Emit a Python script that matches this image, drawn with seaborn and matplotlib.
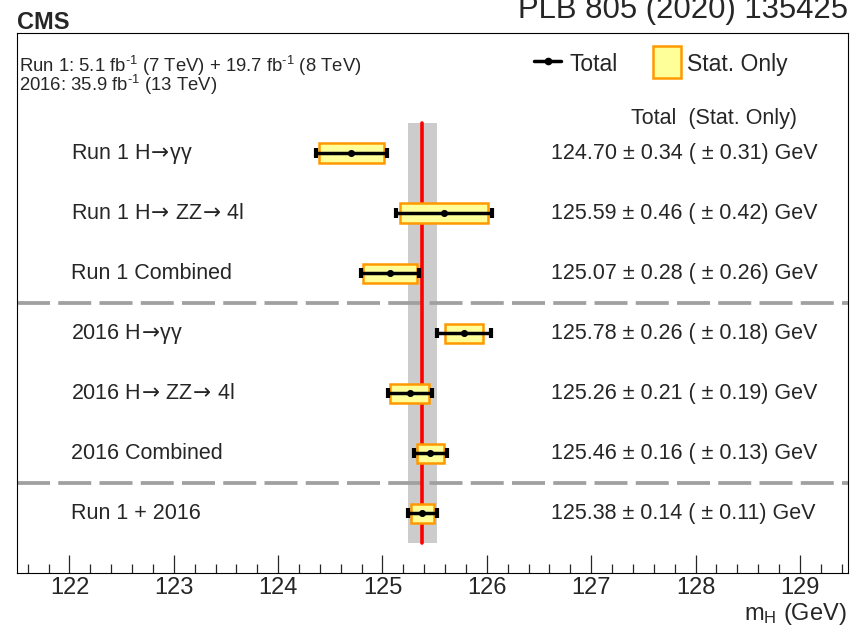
import matplotlib
matplotlib.use("Agg")
import matplotlib.pyplot as plt
import seaborn as sns
import numpy as np
import pandas as pd
from matplotlib.patches import Rectangle
from matplotlib.lines import Line2D

# ---- data ----
ARR = r"$\!\mathsf{\rightarrow}\!$"
labels = ["Run 1 H" + ARR + "\u03b3\u03b3", "Run 1 H" + ARR + " ZZ" + ARR + " 4l",
          "Run 1 Combined",
          "2016 H" + ARR + "\u03b3\u03b3", "2016 H" + ARR + " ZZ" + ARR + " 4l",
          "2016 Combined", "Run 1 + 2016"]
central = [124.70, 125.59, 125.07, 125.78, 125.26, 125.46, 125.38]
total_err = [0.34, 0.46, 0.28, 0.26, 0.21, 0.16, 0.14]
stat_err = [0.31, 0.42, 0.26, 0.18, 0.19, 0.13, 0.11]
separators = [2.5, 5.5]
xticks = [122, 123, 124, 125, 126, 127, 128, 129]

sns.set_style("white")
plt.rcParams['font.family'] = ['Liberation Sans', 'DejaVu Sans']
plt.rcParams['mathtext.fontset'] = 'custom'
plt.rcParams['mathtext.rm'] = 'Liberation Sans'
plt.rcParams['mathtext.sf'] = 'DejaVu Sans'
plt.rcParams['mathtext.default'] = 'regular'

df = pd.DataFrame({"label": labels, "m": central, "tot": total_err,
                   "stat": stat_err, "row": np.arange(len(labels))})

fig = plt.figure(figsize=(8.59, 6.35), dpi=100)
ax = fig.add_axes([0.02014, 0.09716, 0.9669, 0.8509])

comb = df.iloc[-1]
ax.fill_betweenx([-0.5, len(df) - 0.5], comb.m - comb.tot, comb.m + comb.tot,
                 color="#CCCCCC", lw=0, zorder=1)
for s in separators:
    ax.axhline(s, color="#A0A0A0", lw=2.7, dashes=(8.8, 2.2),
               dash_capstyle='butt', zorder=2)
ax.plot([comb.m, comb.m], [-0.5, len(df) - 0.5], color="#FF0000", lw=2.6, zorder=3)

ax.barh(df.row, 2 * df.stat, left=df.m - df.stat, height=0.32,
        color="#FFFF99", edgecolor="#FF9900", linewidth=1.8, zorder=4)
ax.errorbar(df.m, df.row, xerr=df.tot, fmt='none', ecolor='black',
            elinewidth=2.5, capsize=3.3, capthick=3.0, zorder=5)
sns.scatterplot(data=df, x="m", y="row", color="black", s=26, linewidth=0,
                zorder=6, ax=ax, legend=False)

for _, r in df.iterrows():
    ax.text(122.018, r.row + 0.1, r.label, fontsize=15.5, ha='left', va='baseline')
    ax.text(126.616, r.row + 0.10,
            f"{r.m:.2f} \u00b1 {r.tot:.2f} ( \u00b1 {r.stat:.2f}) GeV",
            fontsize=15.5, ha='left', va='baseline')
ax.text(128.972, -0.488, "Total  (Stat. Only)", fontsize=15.5, ha='right', va='baseline')

# legend (manual)
ax.add_line(Line2D([126.453, 126.712], [-1.527, -1.527], color='black', lw=2.5, zorder=6))
ax.plot([126.5825], [-1.527], 'o', color='black', ms=4.5, zorder=7)
ax.text(126.791, -1.36, "Total", fontsize=16.5, ha='left', va='baseline')
ax.add_patch(Rectangle((127.59, -1.777), 0.271, 0.527, facecolor="#FFFF99",
                       edgecolor="#FF9900", lw=1.8, zorder=6))
ax.text(127.916, -1.36, "Stat. Only", fontsize=16.5, ha='left', va='baseline')

ax.set_xlim(121.5, 129.46)
ax.set_ylim(7, -2)
ax.set_xticks(xticks)
ax.set_xticklabels([str(t) for t in xticks], fontsize=17)
ax.set_xticks(np.arange(121.6, 129.45, 0.2), minor=True)
ax.set_yticks([])
ax.tick_params(axis='x', which='major', direction='in', length=13, width=0.9,
               pad=3, bottom=True, top=False)
ax.tick_params(axis='x', which='minor', direction='in', length=6.5, width=0.9,
               bottom=True, top=False)
ax.set_xlabel("")
ax.set_ylabel("")
for sp in ax.spines.values():
    sp.set_visible(True)
    sp.set_color('black')
    sp.set_linewidth(0.8)

SUP = r"$^{\text{-1}}$"
fig.text(0.9857, 0.0236, r"m$_{H}$ (GeV)", fontsize=17, ha='right', va='baseline')
fig.text(0.0198, 0.9548, "CMS", fontsize=17, fontweight='bold', ha='left', va='baseline')
fig.text(0.9872, 0.9717, "PLB 805 (2020) 135425", fontsize=22.4, ha='right', va='baseline')
fig.text(0.0221, 0.8871, "Run 1: 5.1 fb" + SUP + " (7 TeV) + 19.7 fb" + SUP + " (8 TeV)",
         fontsize=13.3, ha='left', va='baseline')
fig.text(0.0221, 0.8567, "2016: 35.9 fb" + SUP + " (13 TeV)",
         fontsize=13.3, ha='left', va='baseline')

fig.savefig("out.png", dpi=100)
